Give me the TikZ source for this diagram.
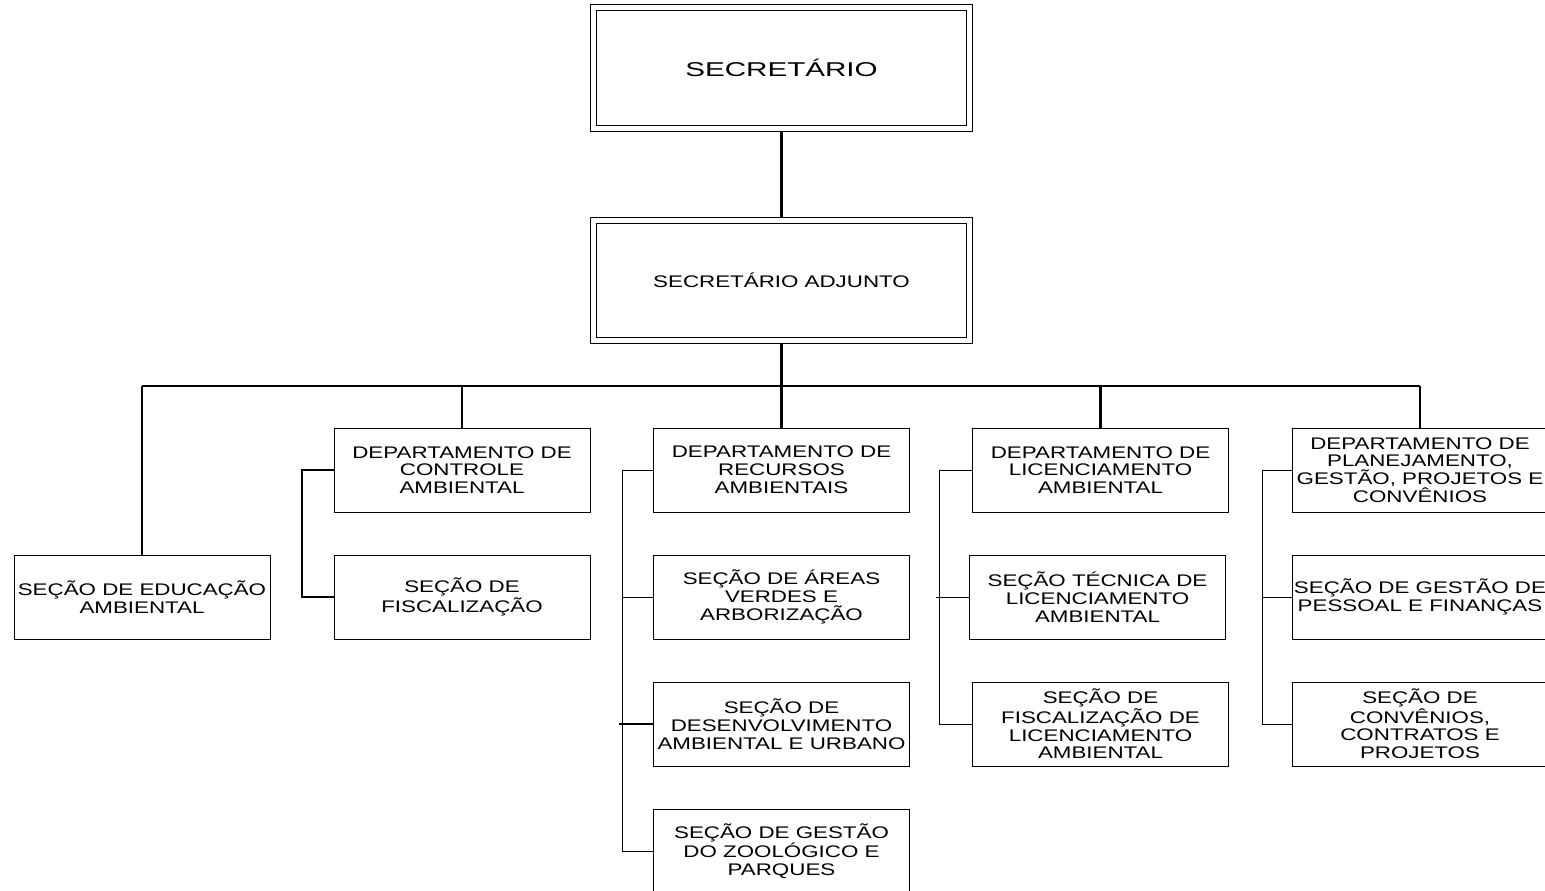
\documentclass[tikz,border=0pt]{standalone}
\usepackage{fontspec}
\setmainfont{Liberation Sans}
\newfontfamily\boxfont[FakeStretch=1.33]{Liberation Sans}
\newfontfamily\titfont[FakeStretch=1.48]{Liberation Sans}
\usetikzlibrary{backgrounds}
\tikzset{
  box/.style={draw, line width=1pt, fill=white, minimum width=256pt, minimum height=84pt,
    inner sep=0pt, outer sep=0pt, align=center, font=\boxfont\fontsize{16.8}{17.8}\selectfont},
  dbox/.style={box, double, double distance=5pt, minimum width=376pt, minimum height=120.5pt},
  mainline/.style={line width=2.6pt},
  thinline/.style={line width=1pt},
  midline/.style={line width=2pt}
}
\begin{document}
\begin{tikzpicture}[x=1pt,y=-1pt]
\useasboundingbox (0,0) rectangle (1545,891);
% top
\node[dbox, font=\titfont\fontsize{20}{22}\selectfont] (sec) at (781.5,68.25) {SECRETÁRIO};
\node[dbox] (adj) at (781.5,280.25) {SECRETÁRIO ADJUNTO};
% row 1
\node[box] (ctl) at (462,470) {DEPARTAMENTO DE\\CONTROLE\\AMBIENTAL};
\node[box] (rec) at (781.5,470) {DEPARTAMENTO DE\\RECURSOS\\AMBIENTAIS};
\node[box] (lic) at (1100.5,470) {DEPARTAMENTO DE\\LICENCIAMENTO\\AMBIENTAL};
\node[box] (pla) at (1420,470) {DEPARTAMENTO DE\\PLANEJAMENTO,\\GESTÃO, PROJETOS E\\CONVÊNIOS};
% row 2
\node[box] (edu) at (142,597) {SEÇÃO DE EDUCAÇÃO\\AMBIENTAL};
\node[box] (fis) at (462,597) {SEÇÃO DE\\FISCALIZAÇÃO};
\node[box] (ave) at (781.5,597) {SEÇÃO DE ÁREAS\\VERDES E\\ARBORIZAÇÃO};
\node[box] (tec) at (1097.5,597) {SEÇÃO TÉCNICA DE\\LICENCIAMENTO\\AMBIENTAL};
\node[box] (pes) at (1420,597) {SEÇÃO DE GESTÃO DE\\PESSOAL E FINANÇAS};
% row 3
\node[box] (des) at (781.5,724) {SEÇÃO DE\\DESENVOLVIMENTO\\AMBIENTAL E URBANO};
\node[box] (fli) at (1100.5,724) {SEÇÃO DE\\FISCALIZAÇÃO DE\\LICENCIAMENTO\\AMBIENTAL};
\node[box] (con) at (1420,724) {SEÇÃO DE\\CONVÊNIOS,\\CONTRATOS E\\PROJETOS};
% row 4
\node[box] (zoo) at (781.5,851) {SEÇÃO DE GESTÃO\\DO ZOOLÓGICO E\\PARQUES};
% connectors
\begin{scope}[on background layer]
\coordinate (bus) at (781.5,386);
\draw[mainline] (sec.south) -- (adj.north);
\draw[mainline] (adj.south) -- (bus);
\draw[mainline] (edu.north |- bus) -- (pla.north |- bus);
\draw[mainline] (edu.north) -- (edu.north |- bus);
\draw[mainline] (ctl.north) -- (ctl.north |- bus);
\draw[mainline] (rec.north) -- (bus);
\draw[mainline] (lic.north) -- (lic.north |- bus);
\draw[mainline] (pla.north) -- (pla.north |- bus);
% controle
\coordinate (cs) at (302,470);
\draw[midline] (ctl.west) -- (cs) |- (fis.west);
% recursos
\coordinate (rs) at (622,470);
\draw[thinline] (rec.west) -- (rs) |- (zoo.west);
\draw[thinline] (ave.west) -- (ave.west -| rs);
\draw[midline] (des.west) -- ([xshift=-3pt]des.west -| rs);
% licenciamento
\coordinate (ls) at (939,470);
\draw[thinline] (lic.west) -- (ls) |- (fli.west);
\draw[thinline] (tec.west) -- ([xshift=-3pt]tec.west -| ls);
% planejamento
\coordinate (ps) at (1262,470);
\draw[thinline] (pla.west) -- (ps) |- (con.west);
\draw[thinline] (pes.west) -- (pes.west -| ps);
\end{scope}
\end{tikzpicture}
\end{document}
